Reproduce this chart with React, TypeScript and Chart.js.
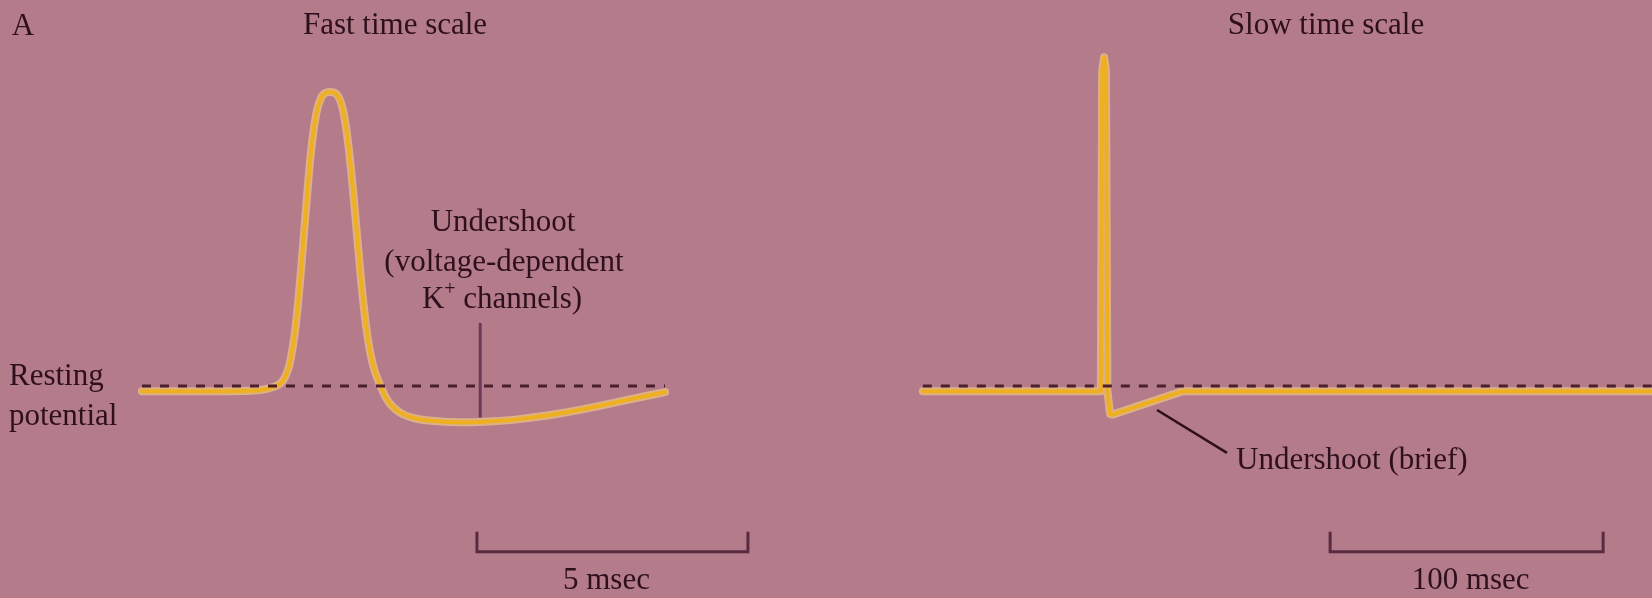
import React, { useEffect, useRef } from "react";
import { Chart, registerables } from "chart.js";

Chart.register(...registerables);

// ---------- data ----------
const fastTimeMs = [0, 1.0, 2.0, 2.4, 2.6, 2.72, 2.82, 2.92, 3.02, 3.12, 3.24, 3.47, 3.7, 3.82, 3.93, 4.04, 4.15, 4.26, 4.4, 4.55, 4.75, 5.0, 5.4, 5.9, 6.3, 7.0, 7.7, 8.4, 9.0, 9.65];
const fastVoltageMv = [-72, -72, -71.8, -70.5, -68, -62, -50, -30, -5, 18, 34, 40, 34, 18, -5, -30, -50, -62, -70, -76, -79.8, -81.9, -83.1, -83.6, -83.4, -82.3, -80.3, -77.6, -75, -72.3];

const slowTimeMs = [-66, -20, -0.8, -0.3, 0.4, 1.1, 1.6, 2.6, 3.5, 29, 60, 120, 201];
const slowVoltageMv = [-72, -72, -72, 48, 53, 48, -72, -80.5, -80.7, -72, -72, -72, -72];

const restingPotentialMv = -70;
const fastRestRangeMs = [0, 9.65];
const slowRestRangeMs = [-66, 201];

const fastScaleBarMs = 5;
const slowScaleBarMs = 100;
const fastScaleBarStartMs = 6.18;
const slowScaleBarStartMs = 83.2;
const scaleBarLevelMv = -132;
const scaleBarTickMv = -124.5;

const undershootMarkerMs = 6.24;
const undershootMarkerMv = [-46.4, -81.8];
const briefPointerMs = [19.8, 45.4];
const briefPointerMv = [-79, -95];

const panelLabel = "A";
const panelTitles = ["Fast time scale", "Slow time scale"];
const scaleBarLabels = ["5 msec", "100 msec"];
const restingLabel = ["Resting", "potential"];
const undershootLabel = ["Undershoot", "(voltage-dependent", "channels)"];
const briefLabel = "Undershoot (brief)";

// ---------- styles ----------
const BG = "#b47b8b";
const INK = "#2e0f1c";
const TRACE = "#efb020";
const GLOW = "rgba(250, 212, 130, 0.6)";
const FONT = "'Liberation Serif', 'Times New Roman', serif";
const W = 1652;
const H = 598;

const toXY = (xs: number[], ys: number[]) => xs.map((x, i) => ({ x, y: ys[i] }));

const overlay = {
  id: "overlay",
  beforeDraw(chart: any) {
    const { ctx } = chart;
    ctx.save();
    ctx.fillStyle = BG;
    ctx.fillRect(0, 0, chart.width, chart.height);
    ctx.restore();
  },
  beforeDatasetsDraw(chart: any) {
    const { ctx } = chart;
    const xf = chart.scales.xFast;
    const xs = chart.scales.xSlow;
    const y = chart.scales.y;
    ctx.save();
    // vertical undershoot marker (fast panel)
    ctx.strokeStyle = "#6b3a58";
    ctx.lineWidth = 3;
    ctx.beginPath();
    ctx.moveTo(xf.getPixelForValue(undershootMarkerMs), y.getPixelForValue(undershootMarkerMv[0]));
    ctx.lineTo(xf.getPixelForValue(undershootMarkerMs), y.getPixelForValue(undershootMarkerMv[1]));
    ctx.stroke();
    // diagonal pointer (slow panel)
    ctx.strokeStyle = INK;
    ctx.lineWidth = 2.5;
    ctx.beginPath();
    ctx.moveTo(xs.getPixelForValue(briefPointerMs[0]), y.getPixelForValue(briefPointerMv[0]));
    ctx.lineTo(xs.getPixelForValue(briefPointerMs[1]), y.getPixelForValue(briefPointerMv[1]));
    ctx.stroke();
    ctx.restore();
  },
  afterDatasetsDraw(chart: any) {
    const { ctx } = chart;
    const xf = chart.scales.xFast;
    const xs = chart.scales.xSlow;
    const y = chart.scales.y;
    ctx.save();

    // scale bars
    const bar = (scale: any, start: number, len: number) => {
      const x0 = scale.getPixelForValue(start);
      const x1 = scale.getPixelForValue(start + len);
      const yb = y.getPixelForValue(scaleBarLevelMv);
      const yt = y.getPixelForValue(scaleBarTickMv);
      ctx.strokeStyle = "#5a2a3f";
      ctx.lineWidth = 3;
      ctx.beginPath();
      ctx.moveTo(x0, yt);
      ctx.lineTo(x0, yb);
      ctx.lineTo(x1, yb);
      ctx.lineTo(x1, yt);
      ctx.stroke();
      return (x0 + x1) / 2;
    };
    const fastBarMid = bar(xf, fastScaleBarStartMs, fastScaleBarMs);
    const slowBarMid = bar(xs, slowScaleBarStartMs, slowScaleBarMs);

    ctx.fillStyle = INK;
    ctx.font = `31px ${FONT}`;
    ctx.textBaseline = "middle";
    ctx.textAlign = "center";

    ctx.fillText(scaleBarLabels[0], fastBarMid - 6, 581);
    ctx.fillText(scaleBarLabels[1], slowBarMid + 4, 581);

    ctx.fillText(panelLabel, 23, 27);
    ctx.fillText(panelTitles[0], 395, 26);
    ctx.fillText(panelTitles[1], 1326, 26);

    // undershoot label (fast)
    ctx.fillText(undershootLabel[0], 503, 223);
    ctx.fillText(undershootLabel[1], 504, 263);
    // K+ channels)
    const kW = ctx.measureText("K").width;
    ctx.font = `20px ${FONT}`;
    const plusW = ctx.measureText("+").width;
    ctx.font = `31px ${FONT}`;
    const restW = ctx.measureText(" " + undershootLabel[2]).width;
    const total = kW + plusW + restW;
    let cx = 502 - total / 2;
    ctx.textAlign = "left";
    ctx.fillText("K", cx, 300);
    cx += kW;
    ctx.font = `20px ${FONT}`;
    ctx.fillText("+", cx, 290);
    cx += plusW;
    ctx.font = `31px ${FONT}`;
    ctx.fillText(" " + undershootLabel[2], cx, 300);

    // resting potential label
    ctx.fillText(restingLabel[0], 9, 377);
    ctx.fillText(restingLabel[1], 9, 417);

    // brief undershoot label
    ctx.fillText(briefLabel, 1236, 461);

    ctx.restore();
  },
};

export default function App() {
  const canvasRef = useRef<HTMLCanvasElement | null>(null);

  useEffect(() => {
    document.body.style.margin = "0";
    document.body.style.background = BG;
    const canvas = canvasRef.current;
    if (!canvas) return;

    const fastData = toXY(fastTimeMs, fastVoltageMv);
    const slowData = toXY(slowTimeMs, slowVoltageMv);
    const fastRest = toXY(fastRestRangeMs, fastRestRangeMs.map(() => restingPotentialMv));
    const slowRest = toXY(slowRestRangeMs, slowRestRangeMs.map(() => restingPotentialMv));

    const dashed = {
      borderColor: "#4b1f2e",
      borderWidth: 3,
      borderDash: [9, 9],
      pointRadius: 0,
      tension: 0,
      fill: false,
      order: 0,
    };

    const trace = {
      borderColor: TRACE,
      borderWidth: 4,
      pointRadius: 0,
      borderJoinStyle: "round",
      borderCapStyle: "round",
      fill: false,
      order: 1,
    };
    const glow = { ...trace, borderColor: GLOW, borderWidth: 8, order: 2 };

    const chart = new Chart(canvas, {
      type: "line",
      data: {
        datasets: [
          { ...dashed, label: "Resting (fast)", data: fastRest, xAxisID: "xFast", yAxisID: "y" },
          { ...dashed, label: "Resting (slow)", data: slowRest, xAxisID: "xSlow", yAxisID: "y" },
          { ...trace, label: "Fast trace", data: fastData, xAxisID: "xFast", yAxisID: "y", cubicInterpolationMode: "monotone" },
          { ...trace, label: "Slow trace", data: slowData, xAxisID: "xSlow", yAxisID: "y", tension: 0 },
          { ...glow, label: "Fast glow", data: fastData, xAxisID: "xFast", yAxisID: "y", cubicInterpolationMode: "monotone" },
          { ...glow, label: "Slow glow", data: slowData, xAxisID: "xSlow", yAxisID: "y", tension: 0 },
        ] as any,
      },
      options: {
        animation: false,
        responsive: false,
        maintainAspectRatio: false,
        events: [],
        layout: { padding: 0 },
        plugins: {
          legend: { display: false },
          tooltip: { enabled: false },
          title: { display: false },
        },
        scales: {
          xFast: {
            type: "linear",
            display: false,
            min: -142 / 54.2,
            max: (W - 142) / 54.2,
          },
          xSlow: {
            type: "linear",
            display: false,
            min: -1103 / 2.73,
            max: (W - 1103) / 2.73,
          },
          y: {
            type: "linear",
            display: false,
            min: restingPotentialMv - (H - 386) / 2.673,
            max: restingPotentialMv + 386 / 2.673,
          },
        },
      },
      plugins: [overlay],
    });

    return () => chart.destroy();
  }, []);

  return (
    <div style={{ position: "absolute", left: 0, top: 0, width: W, height: H }}>
      <canvas ref={canvasRef} width={W} height={H} style={{ display: "block", width: W, height: H }} />
    </div>
  );
}
